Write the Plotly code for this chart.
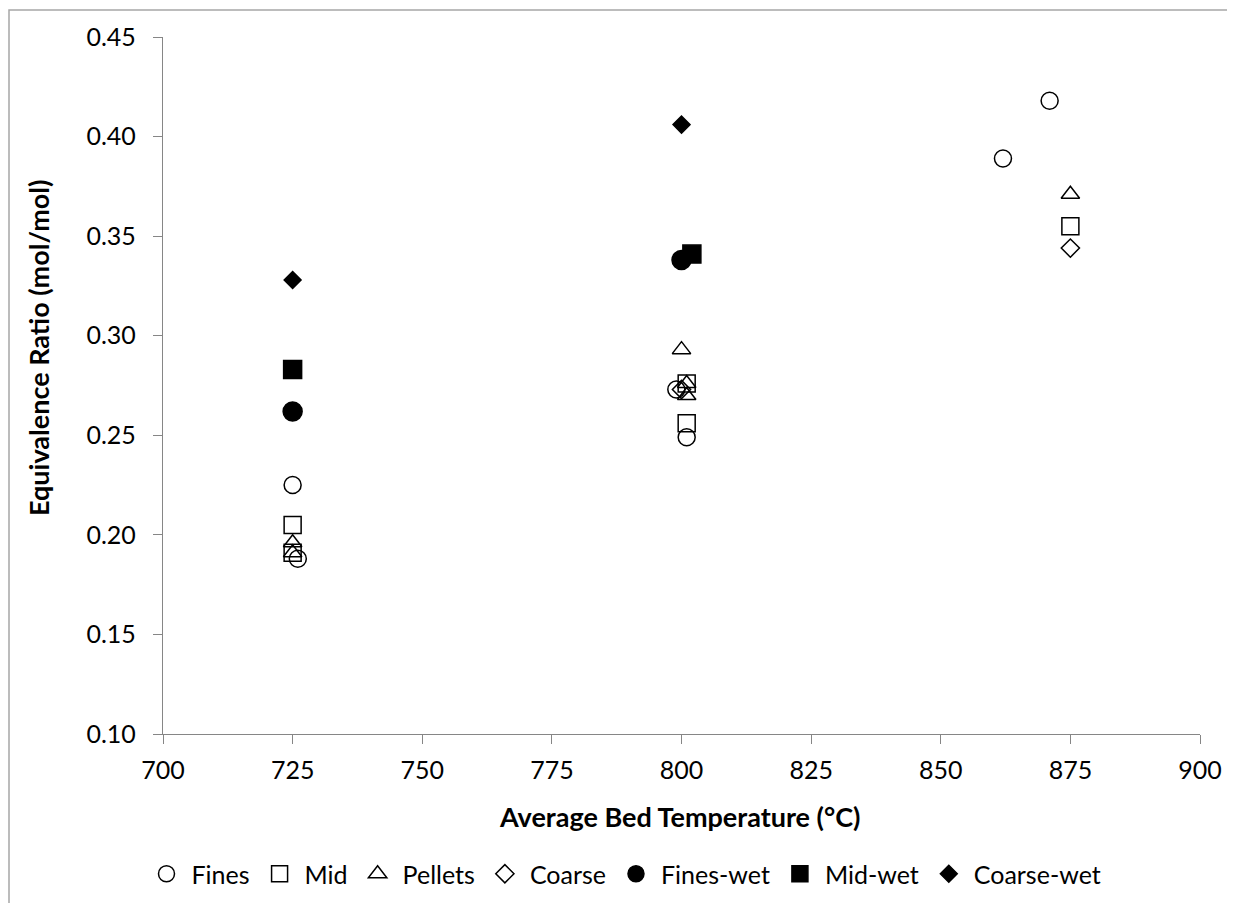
import plotly.graph_objects as go

# ---- data ----
fines_x = [725, 726, 799, 801, 862, 871]
fines_y = [0.225, 0.188, 0.273, 0.249, 0.389, 0.418]
mid_x = [725, 725, 801, 801, 875]
mid_y = [0.205, 0.191, 0.276, 0.256, 0.355]
pellets_x = [725, 725, 800, 801, 801, 875]
pellets_y = [0.196, 0.191, 0.293, 0.276, 0.270, 0.371]
coarse_x = [800, 875]
coarse_y = [0.273, 0.344]
fineswet_x = [725, 800]
fineswet_y = [0.262, 0.338]
midwet_x = [725, 802]
midwet_y = [0.283, 0.341]
coarsewet_x = [725, 800]
coarsewet_y = [0.328, 0.406]

x_ticks = [700, 725, 750, 775, 800, 825, 850, 875, 900]
y_ticks = [0.10, 0.15, 0.20, 0.25, 0.30, 0.35, 0.40, 0.45]

FONT = "Lato"
AXC = "#868686"

series = [
    ("Fines", fines_x, fines_y, "circle-open", 17),
    ("Mid", mid_x, mid_y, "square-open", 17),
    ("Pellets", pellets_x, pellets_y, "triangle-up-open", 16),
    ("Coarse", coarse_x, coarse_y, "diamond-open", 14),
    ("Fines-wet", fineswet_x, fineswet_y, "circle", 19),
    ("Mid-wet", midwet_x, midwet_y, "square", 18),
    ("Coarse-wet", coarsewet_x, coarsewet_y, "diamond", 13),
]

fig = go.Figure()
for name, xs, ys, sym, sz in series:
    fig.add_trace(go.Scatter(
        x=xs, y=ys, mode="markers", name=name,
        marker=dict(symbol=sym, size=sz, color="black",
                    line=dict(width=1.5, color="black")),
    ))

# page body has an 8px margin; positions below are in screenshot pixels
OFF = 8
W, H = 1227, 895
L, T = 163 - OFF, 37 - OFF
pw, ph = 1037, 697
R = W - L - pw
B = H - T - ph

def px_to_paper_x(px):
    return (px - OFF - L) / pw

def px_to_paper_y(py):
    return (T + ph - (py - OFF)) / ph

fig.update_layout(
    width=W, height=H,
    margin=dict(l=L, r=R, t=T, b=B, autoexpand=False),
    paper_bgcolor="white", plot_bgcolor="white",
    font=dict(family=FONT, size=25, color="black"),
    showlegend=True,
    legend=dict(orientation="h", x=px_to_paper_x(624), xanchor="center",
                y=px_to_paper_y(874), yanchor="middle",
                font=dict(family=FONT, size=25, color="black"),
                itemwidth=40, tracegroupgap=0),
    xaxis=dict(range=[700, 900], tickvals=x_ticks, ticktext=[str(v) for v in x_ticks],
               showline=True, linecolor=AXC, linewidth=1.3,
               ticks="outside", ticklen=9, tickcolor=AXC, tickwidth=1.3,
               showgrid=False, zeroline=False, ticklabelstandoff=5,
               tickfont=dict(family=FONT, size=25, color="black")),
    yaxis=dict(range=[0.10, 0.45], tickvals=y_ticks, ticktext=[f"{v:.2f}" for v in y_ticks],
               showline=True, linecolor=AXC, linewidth=1.3,
               ticks="outside", ticklen=9, tickcolor=AXC, tickwidth=1.3,
               showgrid=False, zeroline=False, ticklabelstandoff=12,
               tickfont=dict(family=FONT, size=25, color="black")),
    annotations=[
        dict(text="<b>Average Bed Temperature (°C)</b>", xref="paper", yref="paper",
             x=px_to_paper_x(680), y=px_to_paper_y(816), xanchor="center", yanchor="middle",
             showarrow=False, font=dict(family=FONT, size=27, color="black")),
        dict(text="<b>Equivalence Ratio (mol/mol)</b>", xref="paper", yref="paper",
             x=px_to_paper_x(38), y=px_to_paper_y(348), xanchor="center", yanchor="middle",
             textangle=-90, showarrow=False, font=dict(family=FONT, size=27, color="black")),
    ],
    shapes=[
        dict(type="rect", xref="paper", yref="paper",
             x0=px_to_paper_x(9), x1=px_to_paper_x(1245),
             y0=px_to_paper_y(915), y1=px_to_paper_y(10),
             line=dict(color="#a6a6a6", width=1.5), fillcolor="rgba(0,0,0,0)", layer="below"),
    ],
)

fig.write_html("out.html")
